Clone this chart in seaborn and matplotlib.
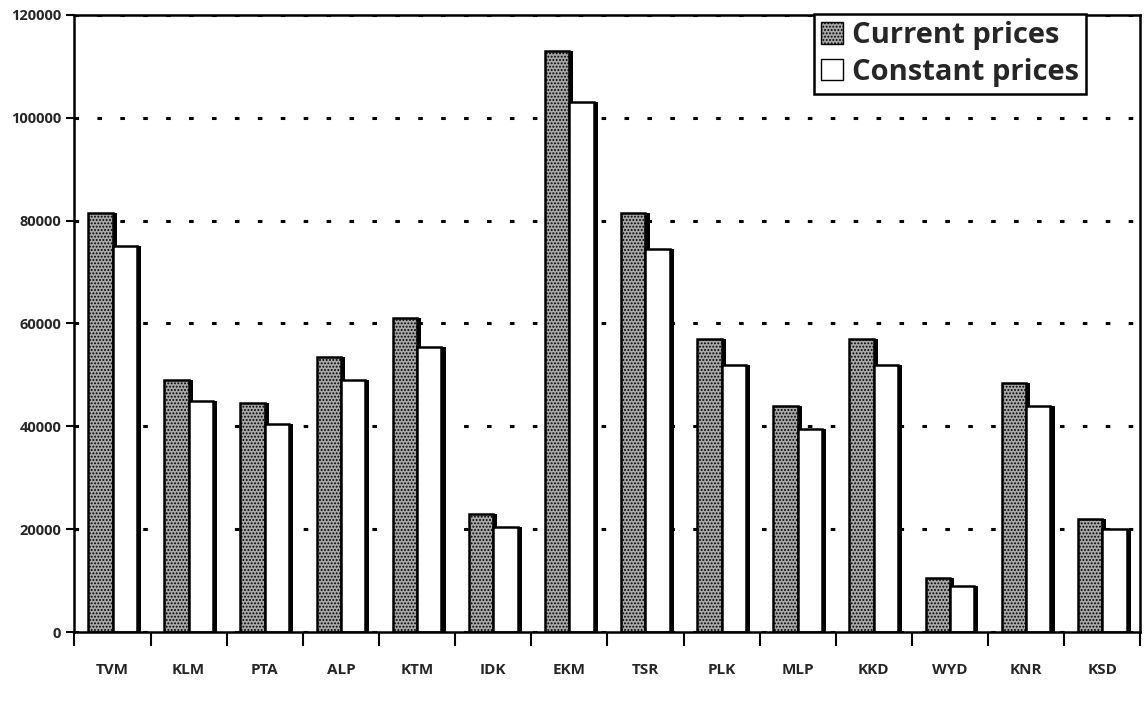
import numpy as np
import pandas as pd
import seaborn as sns
import matplotlib.pyplot as plt
import matplotlib.patheffects as pe
from matplotlib.patches import Patch

districts = ['TVM', 'KLM', 'PTA', 'ALP', 'KTM', 'IDK', 'EKM',
             'TSR', 'PLK', 'MLP', 'KKD', 'WYD', 'KNR', 'KSD']
current_prices = [81500, 49000, 44500, 53500, 61000, 23000, 113000,
                  81500, 57000, 44000, 57000, 10500, 48500, 22000]
constant_prices = [75000, 45000, 40500, 49000, 55500, 20500, 103000,
                   74500, 52000, 39500, 52000, 9000, 44000, 20000]
series = ['Current prices', 'Constant prices']

df = pd.DataFrame({
    'District': districts * 2,
    'Value': current_prices + constant_prices,
    'Series': [series[0]] * len(districts) + [series[1]] * len(districts),
})

sns.set_style('white')
plt.rcParams['font.family'] = ['Open Sans', 'DejaVu Sans']
plt.rcParams['hatch.linewidth'] = 0.9

fig = plt.figure(figsize=(11.46, 7.07), dpi=100)
ax = fig.add_axes([0.065, 0.106, 0.93, 0.873])

sns.barplot(data=df, x='District', y='Value', hue='Series', order=districts,
            hue_order=series, palette=['#a8a8a8', 'white'], width=0.64,
            gap=0, edgecolor='black', linewidth=1.8, legend=False, ax=ax)

shadow = [pe.SimplePatchShadow(offset=(3, 0), shadow_rgbFace='black', alpha=1), pe.Normal()]
for bar in ax.containers[0]:
    bar.set_hatch('.....')
    bar.set_path_effects(shadow)
for bar in ax.containers[1]:
    bar.set_path_effects(shadow)

ax.set_ylim(0, 120000)
ax.set_xlim(-0.5, len(districts) - 0.5)
ax.set_yticks(np.arange(0, 120001, 20000))
ax.yaxis.grid(True, linestyle=(0, (1.5, 6)), color='black', linewidth=2.2)
ax.set_axisbelow(True)
ax.set_xlabel('')
ax.set_ylabel('')

for s in ax.spines.values():
    s.set_color('black')
    s.set_linewidth(1.8)

# ticks sit between categories
ax.set_xticks(np.arange(len(districts)))
ax.set_xticklabels(districts, fontweight='bold', fontsize=11)
ax.set_xticks(np.arange(-0.5, len(districts)), minor=True)
ax.tick_params(axis='x', which='major', length=0, pad=22)
ax.tick_params(axis='x', which='minor', length=10, width=1.5, direction='out', color='black', bottom=True)
ax.tick_params(axis='y', length=6, width=1.5, direction='out', color='black', left=True)
for lab in ax.get_yticklabels():
    lab.set_fontweight('bold')
    lab.set_fontsize(10.5)

handles = [Patch(facecolor='#a8a8a8', edgecolor='black', hatch='.....', label=series[0]),
           Patch(facecolor='white', edgecolor='black', label=series[1])]
leg = ax.legend(handles=handles, loc='upper right', bbox_to_anchor=(0.963, 1.025),
                prop={'weight': 'bold', 'size': 21}, frameon=True, fancybox=False,
                handlelength=0.75, handleheight=0.75, handletextpad=0.3,
                borderpad=0.25, labelspacing=0.25, framealpha=1)
leg.get_frame().set_edgecolor('black')
leg.get_frame().set_linewidth(1.8)

fig.savefig('out.png', dpi=100)
